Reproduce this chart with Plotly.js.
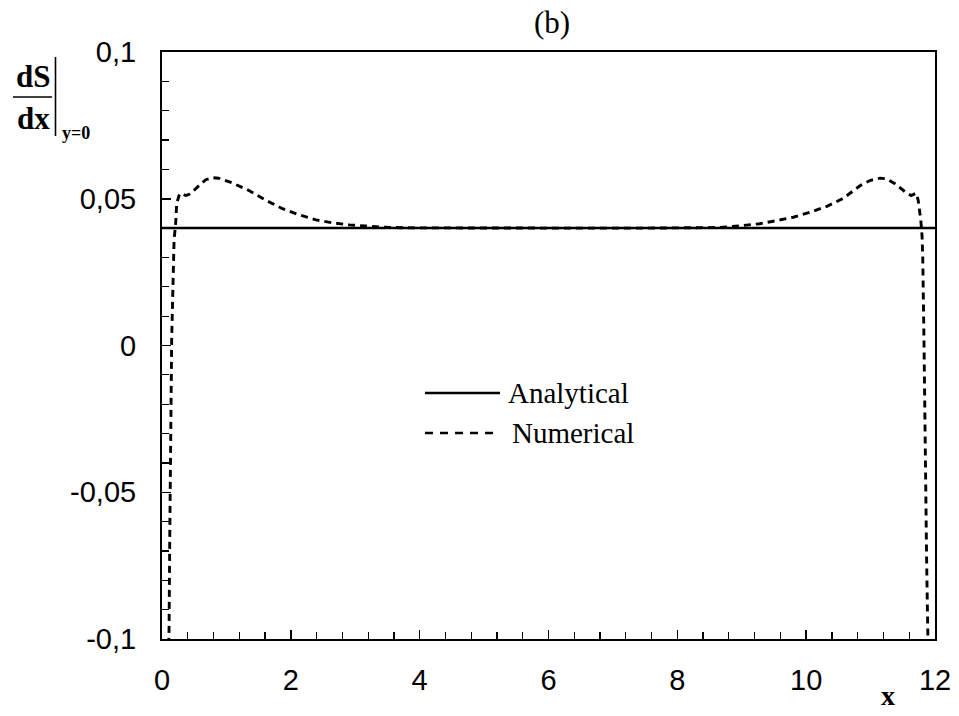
<!DOCTYPE html>
<html>
<head>
<meta charset="utf-8">
<script src="https://cdn.plot.ly/plotly-3.0.1.min.js"></script>
<style>html,body{margin:0;padding:0;background:#fff;}#chart{width:959px;height:716px;}</style>
</head>
<body>
<div id="chart"></div>
<script>
// ---- data ----
const analyticalX = [0, 12];
const analyticalY = [0.04, 0.04];

const numericalX = [0.105, 0.11, 0.12, 0.13, 0.15, 0.187, 0.2, 0.213, 0.228, 0.264, 0.29, 0.33, 0.368, 0.42, 0.47, 0.575, 0.68, 0.78, 0.88, 1.09, 1.35, 1.62, 1.87, 2.13, 2.39, 2.65, 2.91, 3.17, 3.42, 3.8, 4.5, 6.0, 7.5, 8.3, 8.66, 9.02, 9.28, 9.55, 9.8, 10.06, 10.33, 10.58, 10.84, 11.0, 11.15, 11.25, 11.38, 11.54, 11.63, 11.71, 11.74, 11.76, 11.78, 11.8, 11.81, 11.83, 11.85, 11.87, 11.89, 11.895];
const numericalY = [-0.102, -0.096, -0.0665, -0.0324, 0.0017, 0.0358, 0.0385, 0.0419, 0.0483, 0.0511, 0.0519, 0.0516, 0.0511, 0.0515, 0.0523, 0.0545, 0.0565, 0.0572, 0.0570, 0.0554, 0.0528, 0.0494, 0.0466, 0.0445, 0.0428, 0.0418, 0.0411, 0.0407, 0.0403, 0.0401, 0.0400, 0.0400, 0.0400, 0.0401, 0.0402, 0.0409, 0.0415, 0.0426, 0.0437, 0.0454, 0.0475, 0.0502, 0.0545, 0.0563, 0.0570, 0.0568, 0.0551, 0.0523, 0.0511, 0.0519, 0.0494, 0.0460, 0.0426, 0.0369, 0.0300, 0.0, -0.05, -0.0733, -0.1, -0.103];

const yTickVals = [-0.1, -0.05, 0, 0.05, 0.1];
const yTickText = ['-0,1', '-0,05', '0', '0,05', '0,1'];
const xTickVals = [0, 2, 4, 6, 8, 10, 12];
const xTickText = ['0', '2', '4', '6', '8', '10', '12'];

const seriesNames = ['Analytical', 'Numerical'];

// ---- layout helpers (pixel -> paper) ----
const L = 162, R = 935, T = 52, B = 639;
const px = v => (v - L) / (R - L);
const py = v => (B - v) / (B - T);

const traces = [
  {x: analyticalX, y: analyticalY, mode: 'lines', name: seriesNames[0], showlegend: false,
   line: {color: '#000', width: 2.5}},
  {x: numericalX, y: numericalY, mode: 'lines', name: seriesNames[1], showlegend: false,
   line: {color: '#000', width: 2.9, dash: '7px,5px'}}
];

const serif = 'Liberation Serif, Times New Roman, serif';
const sans = 'Liberation Sans, Arial, Helvetica, sans-serif';

const layout = {
  width: 959, height: 716,
  margin: {l: L, r: 959 - R, t: T, b: 716 - B},
  paper_bgcolor: '#fff', plot_bgcolor: '#fff',
  showlegend: false,
  title: {text: '(b)', font: {family: serif, size: 31, color: '#000'},
          xref: 'paper', x: px(552), xanchor: 'center', yref: 'container', y: 1 - 22/716, yanchor: 'middle'},
  xaxis: {
    range: [0, 12], tickmode: 'array', tickvals: xTickVals, ticktext: xTickText,
    ticks: 'inside', ticklen: 9, tickwidth: 1.5, tickcolor: '#000',
    showline: true, linecolor: '#000', linewidth: 2, mirror: true,
    showgrid: false, zeroline: false,
    tickfont: {family: sans, size: 29, color: '#000'},
    ticklabelstandoff: 14,
    minor: {tickmode: 'linear', tick0: 0, dtick: 0.4, ticks: 'inside', ticklen: 7, tickwidth: 1.2, tickcolor: '#000', showgrid: false}
  },
  yaxis: {
    range: [-0.1, 0.1], tickmode: 'array', tickvals: yTickVals, ticktext: yTickText,
    ticks: 'inside', ticklen: 9, tickwidth: 1.5, tickcolor: '#000',
    showline: true, linecolor: '#000', linewidth: 2, mirror: true,
    showgrid: false, zeroline: false,
    tickfont: {family: sans, size: 29, color: '#000'},
    ticklabelstandoff: 18,
    minor: {tickmode: 'linear', tick0: -0.1, dtick: 0.01, ticks: 'inside', ticklen: 7, tickwidth: 1.2, tickcolor: '#000', showgrid: false}
  },
  shapes: [
    // legend samples
    {type: 'line', xref: 'paper', yref: 'paper', x0: px(425), x1: px(500), y0: py(393), y1: py(393),
     line: {color: '#000', width: 2.5}},
    {type: 'line', xref: 'paper', yref: 'paper', x0: px(425), x1: px(493), y0: py(433), y1: py(433),
     line: {color: '#000', width: 2.6, dash: '8px,7px'}},
    // y-label fraction bar and evaluation bar
    {type: 'line', xref: 'paper', yref: 'paper', x0: px(13), x1: px(52), y0: py(97), y1: py(97),
     line: {color: '#000', width: 1.6}},
    {type: 'line', xref: 'paper', yref: 'paper', x0: px(55.5), x1: px(55.5), y0: py(57), y1: py(136),
     line: {color: '#000', width: 1.6}}
  ],
  annotations: [
    {text: seriesNames[0], xref: 'paper', yref: 'paper', x: px(506), y: py(393), xanchor: 'left', yanchor: 'middle',
     showarrow: false, font: {family: serif, size: 29, color: '#000'}},
    {text: seriesNames[1], xref: 'paper', yref: 'paper', x: px(510), y: py(433), xanchor: 'left', yanchor: 'middle',
     showarrow: false, font: {family: serif, size: 29, color: '#000'}},
    {text: '<b>dS</b>', xref: 'paper', yref: 'paper', x: px(33), y: py(76), xanchor: 'center', yanchor: 'middle',
     showarrow: false, font: {family: serif, size: 31, color: '#000'}},
    {text: '<b>dx</b>', xref: 'paper', yref: 'paper', x: px(33), y: py(119), xanchor: 'center', yanchor: 'middle',
     showarrow: false, font: {family: serif, size: 31, color: '#000'}},
    {text: '<b>y=0</b>', xref: 'paper', yref: 'paper', x: px(60), y: py(133), xanchor: 'left', yanchor: 'middle',
     showarrow: false, font: {family: serif, size: 18, color: '#000'}},
    {text: '<b>x</b>', xref: 'paper', yref: 'paper', x: px(888), y: py(695), xanchor: 'center', yanchor: 'middle',
     showarrow: false, font: {family: serif, size: 28, color: '#000'}}
  ]
};

Plotly.newPlot('chart', traces, layout, {displayModeBar: false, staticPlot: true});
</script>
</body>
</html>
